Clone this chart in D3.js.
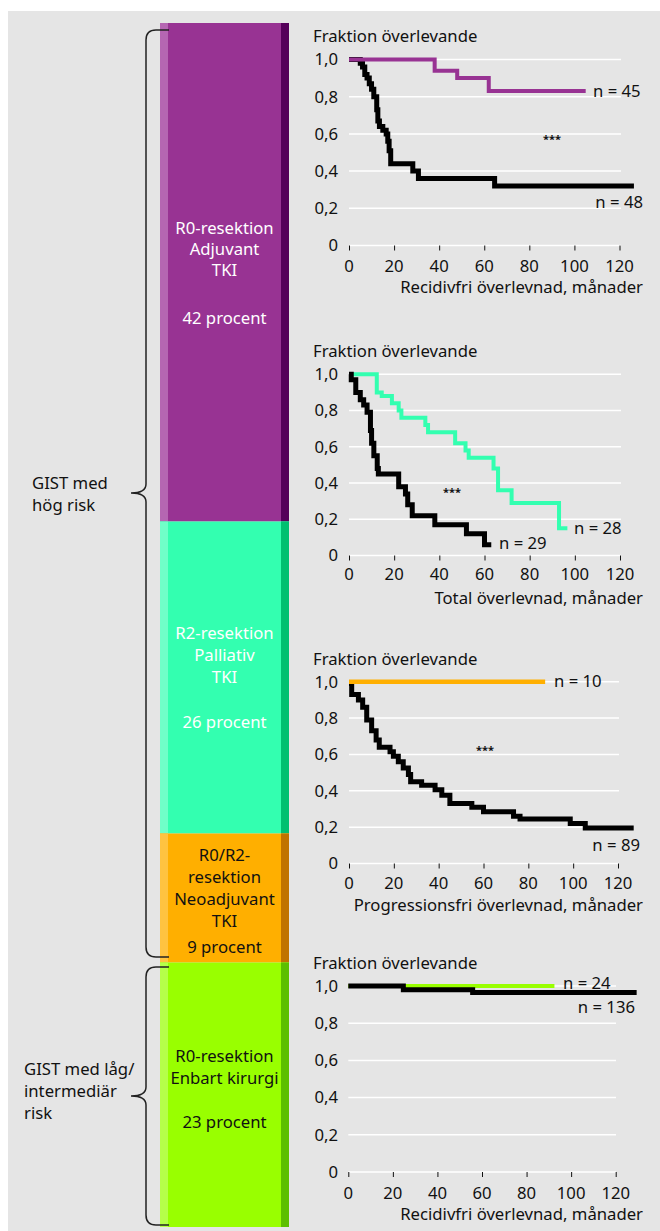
<!DOCTYPE html>
<html>
<head>
<meta charset="utf-8">
<script src="https://cdn.jsdelivr.net/npm/d3@7"></script>
<style>
  body { margin: 0; background: #fff; }
  svg text { font-family: "Noto Sans", sans-serif; fill: #111; }
</style>
</head>
<body>
<div id="chart"></div>
<script>
// bar on the left: share of patients per treatment group
var groupNames = ['R0 adjuvant', 'R2 palliativ', 'R0/R2 neoadjuvant', 'R0 enbart kirurgi'];
var groupPercent = [42, 26, 9, 23];
var groupLines = [
  ['R0-resektion', 'Adjuvant', 'TKI', '', '42 procent'],
  ['R2-resektion', 'Palliativ', 'TKI', '', '26 procent'],
  ['R0/R2-', 'resektion', 'Neoadjuvant', 'TKI', '9 procent'],
  ['R0-resektion', 'Enbart kirurgi', '', '23 procent']
];

// Kaplan-Meier curves, [month, fraction surviving]
var rfsAdjuvant = [[0,1],[38,0.94],[48,0.9],[62,0.83],[105,0.83]];
var rfsAdjuvantCtrl = [[0,1],[5,0.98],[6,0.96],[7,0.92],[8,0.9],[9,0.87],[10,0.84],[11,0.8],[12.3,0.73],
  [12.8,0.67],[13.5,0.64],[15,0.62],[16.5,0.6],[17.2,0.56],[17.8,0.51],[18.5,0.44],[28.3,0.4],[30.8,0.36],
  [64.6,0.32],[126.4,0.32]];

var osPalliativ = [[0,1],[12.3,0.9],[14.5,0.88],[19,0.84],[22,0.8],[23.2,0.76],[33.8,0.72],[35,0.68],
  [47,0.62],[51.6,0.58],[53,0.54],[64,0.48],[66,0.36],[72,0.29],[93,0.15],[96.7,0.15]];
var osPalliativCtrl = [[0,1],[1,0.97],[3,0.9],[5,0.86],[6.5,0.83],[8,0.79],[9.5,0.69],[10,0.62],[11,0.55],
  [12.5,0.48],[13,0.45],[22,0.38],[25,0.34],[26,0.28],[28,0.22],[38,0.17],[52,0.12],[60,0.06],[63,0.06]];

var pfsNeoadj = [[0,1],[87.5,1]];
var pfsNeoadjCtrl = [[0,0.99],[1.2,0.93],[4.2,0.9],[6.1,0.86],[7.9,0.79],[10.1,0.73],[12.1,0.68],[13.5,0.64],
  [18.3,0.615],[19.8,0.59],[22,0.56],[24.2,0.525],[26.5,0.49],[27.5,0.45],[32.4,0.43],[38.4,0.405],
  [41.4,0.375],[45,0.33],[54.8,0.31],[60,0.285],[73.4,0.26],[76.3,0.245],[98.7,0.22],[105.4,0.195],[127,0.195]];

var rfsKirurgi = [[0,1],[92.5,1]];
var rfsKirurgiAll = [[0,1],[24.7,0.98],[55.8,0.965],[129.4,0.965]];

var xTicks = [0, 20, 40, 60, 80, 100, 120];
var yTicks = [0, 0.2, 0.4, 0.6, 0.8, 1.0];

var colPurple = '#983393', colTeal = '#33ffb0', colOrange = '#ffaf00', colGreen = '#99ff00';
var fs = 16.7;

var svgWidth = 660, svgHeight = 1231;
var svg = d3.select('#chart').append('svg')
  .attr('width', svgWidth)
  .attr('height', svgHeight);

svg.append('rect')
  .attr('x', 8).attr('y', 11)
  .attr('width', svgWidth - 8).attr('height', svgHeight - 11)
  .attr('fill', '#e5e5e5');

// ---- stacked bar ----
var cum = [0];
groupPercent.forEach(function(p, i) { cum.push(cum[i] + p); });
// breakpoints on the page follow the panels on the right
var barY = d3.scaleLinear().domain(cum).range([23, 521.5, 833.5, 962.5, 1227]);
var barX0 = 160, barX1 = 289, stripW = 8;
var barColors = [
  { main: colPurple, light: '#b566b2', dark: '#55005a', text: '#fff' },
  { main: colTeal, light: '#70ffc8', dark: '#00c070', text: '#fff' },
  { main: colOrange, light: '#ffc340', dark: '#c07300', text: '#111' },
  { main: colGreen, light: '#b5ff4a', dark: '#5cbf00', text: '#111' }
];
var lineY = [[228, 249, 270, 0, 318], [633, 655, 677, 0, 722], [855, 877, 899, 921, 947], [1056, 1078, 0, 1122]];

groupNames.forEach(function(name, i) {
  var y0 = barY(cum[i]), y1 = barY(cum[i + 1]);
  var g = svg.append('g');
  g.append('rect').attr('x', barX0).attr('y', y0).attr('width', barX1 - barX0).attr('height', y1 - y0)
    .attr('fill', barColors[i].main);
  g.append('rect').attr('x', barX0).attr('y', y0).attr('width', stripW).attr('height', y1 - y0)
    .attr('fill', barColors[i].light);
  g.append('rect').attr('x', barX1 - stripW).attr('y', y0).attr('width', stripW).attr('height', y1 - y0)
    .attr('fill', barColors[i].dark);
  groupLines[i].forEach(function(t, j) {
    if (!t) return;
    g.append('text')
      .attr('x', (barX0 + barX1) / 2)
      .attr('y', lineY[i][j])
      .attr('dy', '0.35em')
      .attr('text-anchor', 'middle')
      .attr('font-size', fs)
      .style('fill', barColors[i].text)
      .text(t);
  });
});

// ---- braces ----
function brace(top, bottom, tip) {
  var x = 146, tx = 131, end = 169;
  return 'M' + end + ',' + top + ' H156 Q' + x + ',' + top + ' ' + x + ',' + (top + 10) +
    ' V' + (tip - 9) + ' Q' + x + ',' + tip + ' ' + tx + ',' + tip +
    ' Q' + x + ',' + tip + ' ' + x + ',' + (tip + 9) +
    ' V' + (bottom - 10) + ' Q' + x + ',' + bottom + ' 156,' + bottom + ' H' + end;
}
svg.append('path').attr('d', brace(30, 957, 493)).attr('fill', 'none').attr('stroke', '#222').attr('stroke-width', 1.5);
svg.append('path').attr('d', brace(967, 1225, 1096)).attr('fill', 'none').attr('stroke', '#222').attr('stroke-width', 1.5);

[['GIST med', 'hög risk'], ['GIST med låg/', 'intermediär', 'risk']].forEach(function(lines, i) {
  var x = i === 0 ? 32 : 24;
  var y = i === 0 ? 483 : 1069;
  lines.forEach(function(t, j) {
    svg.append('text').attr('x', x).attr('y', y + j * 22).attr('dy', '0.35em')
      .attr('font-size', fs).text(t);
  });
});

// ---- survival panels ----
var panels = [
  { top: 59.5, bottom: 245.5, left: 349, right: 619.5, gridRight: 621, tickDy: 21, titleDy: 42,
    title: 'Recidivfri överlevnad, månader',
    curves: [{ d: rfsAdjuvantCtrl, c: '#000', w: 5 }, { d: rfsAdjuvant, c: colPurple, w: 4 }],
    labels: [{ t: 'n = 45', x: 593, y: 91, a: 'start' }, { t: 'n = 48', x: 643, y: 202, a: 'end' }],
    stars: [552, 139] },
  { top: 374.3, bottom: 555.5, left: 349, right: 620, gridRight: 621, tickDy: 19, titleDy: 43,
    title: 'Total överlevnad, månader',
    curves: [{ d: osPalliativ, c: colTeal, w: 4 }, { d: osPalliativCtrl, c: '#000', w: 5 }],
    labels: [{ t: 'n = 28', x: 574, y: 528, a: 'start' }, { t: 'n = 29', x: 499, y: 543, a: 'start' }],
    stars: [452, 492] },
  { top: 681.7, bottom: 863.5, left: 349, right: 618, gridRight: 619, tickDy: 20, titleDy: 42,
    title: 'Progressionsfri överlevnad, månader',
    curves: [{ d: pfsNeoadjCtrl, c: '#000', w: 5 }, { d: pfsNeoadj, c: colOrange, w: 4.5 }],
    labels: [{ t: 'n = 10', x: 554, y: 681, a: 'start' }, { t: 'n = 89', x: 640, y: 845, a: 'end' }],
    stars: [485, 750] },
  { top: 986, bottom: 1172, left: 348.3, right: 615.7, gridRight: 616, tickDy: 21, titleDy: 42,
    title: 'Recidivfri överlevnad, månader',
    curves: [{ d: rfsKirurgi, c: colGreen, w: 4 }, { d: rfsKirurgiAll, c: '#000', w: 5 }],
    labels: [{ t: 'n = 24', x: 563, y: 983, a: 'start' }, { t: 'n = 136', x: 635, y: 1007, a: 'end' }],
    stars: null }
];

panels.forEach(function(p) {
  var x = d3.scaleLinear().domain([0, 120]).range([p.left, p.right]);
  var y = d3.scaleLinear().domain([0, 1]).range([p.bottom, p.top]);
  var g = svg.append('g');

  // grid
  g.selectAll('.grid').data(yTicks).enter().append('line')
    .attr('x1', p.left).attr('x2', p.gridRight)
    .attr('y1', function(d) { return y(d); }).attr('y2', function(d) { return y(d); })
    .attr('stroke', '#fff').attr('stroke-width', 1.5);

  // y labels
  g.selectAll('.ylab').data(yTicks).enter().append('text')
    .attr('x', 338).attr('y', function(d) { return y(d); }).attr('dy', '0.35em')
    .attr('text-anchor', 'end').attr('font-size', fs)
    .text(function(d) { return d === 0 ? '0' : d3.format('.1f')(d).replace('.', ','); });

  // x axis
  var xAxis = g.append('g')
    .attr('transform', 'translate(0,' + p.bottom + ')')
    .call(d3.axisBottom(x).tickValues(xTicks).tickSize(5).tickPadding(5));
  xAxis.select('.domain').remove();
  xAxis.selectAll('line').attr('stroke', '#111');
  xAxis.selectAll('text').remove();
  g.selectAll('.xlab').data(xTicks).enter().append('text')
    .attr('x', function(d) { return x(d); }).attr('y', p.bottom + p.tickDy).attr('dy', '0.35em')
    .attr('text-anchor', 'middle').attr('font-size', fs)
    .text(function(d) { return d; });

  g.append('text').attr('x', 643).attr('y', p.bottom + p.titleDy).attr('dy', '0.35em')
    .attr('text-anchor', 'end').attr('font-size', fs).text(p.title);
  g.append('text').attr('x', 313).attr('y', p.top - 23).attr('dy', '0.35em')
    .attr('font-size', fs).text('Fraktion överlevande');

  var line = d3.line()
    .x(function(d) { return x(d[0]); })
    .y(function(d) { return y(d[1]); })
    .curve(d3.curveStepAfter);

  p.curves.forEach(function(c) {
    g.append('path').datum(c.d)
      .attr('d', line)
      .attr('fill', 'none')
      .attr('stroke', c.c)
      .attr('stroke-width', c.w)
      .attr('stroke-linejoin', 'miter');
  });

  p.labels.forEach(function(l) {
    g.append('text').attr('x', l.x).attr('y', l.y).attr('dy', '0.35em')
      .attr('text-anchor', l.a).attr('font-size', fs).text(l.t);
  });

  if (p.stars) {
    g.append('text').attr('x', p.stars[0]).attr('y', p.stars[1]).attr('dy', '0.35em')
      .attr('text-anchor', 'middle').attr('font-size', 11).attr('font-weight', 'bold').text('***');
  }
});
</script>
</body>
</html>
